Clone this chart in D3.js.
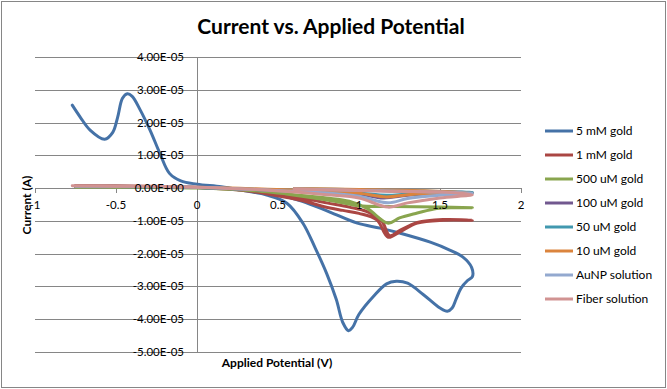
<!DOCTYPE html>
<html>
<head>
<meta charset="utf-8">
<script src="https://cdn.jsdelivr.net/npm/d3@7"></script>
<style>
body { margin: 0; background: #fff; }
svg { display: block; }
</style>
</head>
<body>
<svg id="chart" width="667" height="389"></svg>
<script>
// series: [applied potential (V), current (A)]
const gold5mM = [[-0.77,2.53e-5],[-0.72,2.16e-5],[-0.66,1.77e-5],[-0.57,1.49e-5],[-0.52,1.7e-5],[-0.49,2.16e-5],[-0.46,2.74e-5],[-0.43,2.88e-5],[-0.40,2.8e-5],[-0.35,2.38e-5],[-0.29,1.77e-5],[-0.23,1.07e-5],[-0.17,0.45e-5],[-0.10,0.22e-5],[0.0,0.12e-5],[0.15,0.04e-5],[0.27,-0.06e-5],[0.43,-0.21e-5],[0.555,-0.46e-5],[0.654,-1.07e-5],[0.73,-1.83e-5],[0.80,-2.6e-5],[0.86,-3.4e-5],[0.90,-4.1e-5],[0.935,-4.35e-5],[0.96,-4.25e-5],[1.0,-3.85e-5],[1.09,-3.3e-5],[1.17,-2.92e-5],[1.23,-2.84e-5],[1.30,-2.9e-5],[1.40,-3.26e-5],[1.50,-3.66e-5],[1.545,-3.76e-5],[1.575,-3.66e-5],[1.60,-3.38e-5],[1.63,-3.05e-5],[1.67,-2.82e-5],[1.70,-2.7e-5],[1.695,-2.42e-5],[1.64,-2.1e-5],[1.56,-1.89e-5],[1.44,-1.65e-5],[1.25,-1.37e-5],[1.13,-1.22e-5],[0.99,-1.07e-5],[0.82,-0.73e-5],[0.65,-0.4e-5],[0.5,-0.2e-5],[0.3,-0.05e-5]];
const gold1mM = [[-0.75,0.08e-5],[-0.5,0.07e-5],[0.0,0.02e-5],[0.3,-0.08e-5],[0.47,-0.21e-5],[0.64,-0.37e-5],[0.78,-0.56e-5],[0.9,-0.68e-5],[1.0,-0.77e-5],[1.11,-0.97e-5],[1.18,-1.5e-5],[1.25,-1.34e-5],[1.36,-1.07e-5],[1.52,-0.98e-5],[1.70,-0.98e-5],[1.52,-0.96e-5],[1.36,-1.05e-5],[1.25,-1.3e-5],[1.19,-1.45e-5],[1.14,-1.0e-5],[1.05,-0.72e-5],[0.94,-0.58e-5],[0.8,-0.45e-5],[0.65,-0.3e-5],[0.5,-0.18e-5]];
const gold500uM = [[-0.75,0.03e-5],[-0.5,0.03e-5],[0.0,0.0],[0.4,-0.1e-5],[0.6,-0.2e-5],[0.8,-0.3e-5],[0.94,-0.4e-5],[1.05,-0.62e-5],[1.18,-1.07e-5],[1.25,-0.91e-5],[1.36,-0.76e-5],[1.48,-0.62e-5],[1.6,-0.6e-5],[1.70,-0.6e-5],[1.5,-0.58e-5],[1.2,-0.56e-5],[1.0,-0.54e-5],[0.85,-0.4e-5],[0.72,-0.3e-5],[0.55,-0.18e-5]];
const gold100uM = [[-0.75,0.05e-5],[-0.3,0.04e-5],[0.0,0.02e-5],[0.4,-0.05e-5],[0.8,-0.12e-5],[1.0,-0.18e-5],[1.15,-0.3e-5],[1.3,-0.22e-5],[1.5,-0.16e-5],[1.70,-0.14e-5],[1.4,-0.1e-5],[1.0,-0.06e-5],[0.6,-0.03e-5]];
const gold50uM = [[-0.75,0.05e-5],[-0.3,0.04e-5],[0.0,0.02e-5],[0.4,-0.04e-5],[0.8,-0.1e-5],[1.0,-0.15e-5],[1.17,-0.22e-5],[1.3,-0.18e-5],[1.5,-0.15e-5],[1.70,-0.13e-5],[1.4,-0.09e-5],[1.0,-0.05e-5],[0.6,-0.02e-5]];
const gold10uM = [[-0.75,0.06e-5],[-0.3,0.05e-5],[0.0,0.03e-5],[0.4,-0.03e-5],[0.8,-0.1e-5],[1.0,-0.16e-5],[1.17,-0.27e-5],[1.3,-0.2e-5],[1.5,-0.16e-5],[1.70,-0.15e-5],[1.4,-0.08e-5],[1.0,-0.04e-5],[0.6,-0.01e-5]];
const auNP = [[-0.75,0.06e-5],[-0.3,0.05e-5],[0.0,0.03e-5],[0.4,-0.05e-5],[0.8,-0.15e-5],[1.0,-0.25e-5],[1.18,-0.45e-5],[1.3,-0.32e-5],[1.5,-0.22e-5],[1.70,-0.16e-5],[1.4,-0.11e-5],[1.0,-0.07e-5],[0.6,-0.03e-5]];
const fiber = [[-0.77,0.07e-5],[-0.5,0.06e-5],[-0.2,0.05e-5],[0.0,0.03e-5],[0.4,-0.05e-5],[0.8,-0.2e-5],[1.0,-0.3e-5],[1.18,-0.58e-5],[1.3,-0.45e-5],[1.5,-0.3e-5],[1.70,-0.2e-5],[1.5,-0.12e-5],[1.2,-0.1e-5],[0.9,-0.06e-5],[0.6,-0.03e-5]];

const seriesNames = ["5 mM gold","1 mM gold","500 uM gold","100 uM gold","50 uM gold","10 uM gold","AuNP solution","Fiber solution"];
const seriesData = [gold5mM, gold1mM, gold500uM, gold100uM, gold50uM, gold10uM, auNP, fiber];
const seriesColors = ["#4572A7","#AA4643","#89A54E","#71588F","#4198AF","#DB843D","#93A9CF","#D19392"];

const xTicks = [-1,-0.5,0,0.5,1,1.5,2];
const yTicks = [-5e-5,-4e-5,-3e-5,-2e-5,-1e-5,0,1e-5,2e-5,3e-5,4e-5];

const svg = d3.select("#chart");
const font = "Lato, 'Liberation Sans', sans-serif";

const x_scale = d3.scaleLinear().domain([-1,2]).range([35,521]);
const y_scale = d3.scaleLinear().domain([-5e-5,4e-5]).range([352,57]);

function sci(d) {
    if (d === 0) return "0.00E+00";
    const e = Math.floor(Math.log10(Math.abs(d)) + 1e-9);
    const m = d / Math.pow(10, e);
    return m.toFixed(2) + "E" + (e < 0 ? "-" : "+") + String(Math.abs(e)).padStart(2,"0");
}

// chart border
svg.append("rect")
.attr("x",1.5).attr("y",1.5)
.attr("width",664).attr("height",386)
.attr("fill","none")
.attr("stroke","#868686");

// gridlines
svg.append("g")
.selectAll("line")
.data(yTicks)
.enter()
.append("line")
.attr("x1",35).attr("x2",521)
.attr("y1",d => Math.round(y_scale(d))+0.5)
.attr("y2",d => Math.round(y_scale(d))+0.5)
.attr("stroke","#868686");

// y axis at x = 0
svg.append("line")
.attr("x1",Math.round(x_scale(0))+0.5).attr("x2",Math.round(x_scale(0))+0.5)
.attr("y1",57).attr("y2",352)
.attr("stroke","#868686");

// x axis ticks at y = 0
svg.append("g")
.selectAll("line")
.data(xTicks)
.enter()
.append("line")
.attr("x1",d => Math.round(x_scale(d))+0.5)
.attr("x2",d => Math.round(x_scale(d))+0.5)
.attr("y1",Math.round(y_scale(0)))
.attr("y2",Math.round(y_scale(0))+5)
.attr("stroke","#868686");

// series
const line = d3.line()
.x(d => x_scale(d[0]))
.y(d => y_scale(d[1]))
.curve(d3.curveCatmullRom.alpha(0.5));

svg.append("g")
.selectAll("path")
.data(seriesData)
.enter()
.append("path")
.attr("d",line)
.attr("fill","none")
.attr("stroke",(d,i) => seriesColors[i])
.attr("stroke-width",3)
.attr("stroke-linejoin","round")
.attr("stroke-linecap","round");

// tick labels
svg.append("g")
.selectAll("text")
.data(yTicks)
.enter()
.append("text")
.attr("x",184)
.attr("y",d => y_scale(d))
.attr("dy","0.35em")
.attr("text-anchor","end")
.style("font-family",font)
.style("font-size","11.5px")
.text(sci);

svg.append("g")
.selectAll("text")
.data(xTicks)
.enter()
.append("text")
.attr("x",d => x_scale(d))
.attr("y",y_scale(0)+17)
.attr("dy","0.35em")
.attr("text-anchor","middle")
.style("font-family",font)
.style("font-size","11.5px")
.text(d => d);

// titles
svg.append("text")
.attr("x",331).attr("y",27)
.attr("dy","0.35em")
.attr("text-anchor","middle")
.style("font-family",font)
.style("font-weight","bold")
.style("font-size","21px")
.text("Current vs. Applied Potential");

svg.append("text")
.attr("x",277).attr("y",363)
.attr("dy","0.35em")
.attr("text-anchor","middle")
.style("font-family",font)
.style("font-weight","bold")
.style("font-size","12px")
.text("Applied Potential (V)");

svg.append("text")
.attr("transform","translate(27,205) rotate(-90)")
.attr("dy","0.35em")
.attr("text-anchor","middle")
.style("font-family",font)
.style("font-weight","bold")
.style("font-size","12px")
.text("Current (A)");

// legend
const legend = svg.append("g")
.selectAll("g")
.data(seriesNames)
.enter()
.append("g")
.attr("transform",(d,i) => "translate(545," + (131 + i*24) + ")");

legend.append("line")
.attr("x1",0).attr("x2",28)
.attr("stroke",(d,i) => seriesColors[i])
.attr("stroke-width",3);

legend.append("text")
.attr("x",31)
.attr("dy","0.35em")
.style("font-family",font)
.style("font-size","12px")
.text(d => d);
</script>
</body>
</html>
